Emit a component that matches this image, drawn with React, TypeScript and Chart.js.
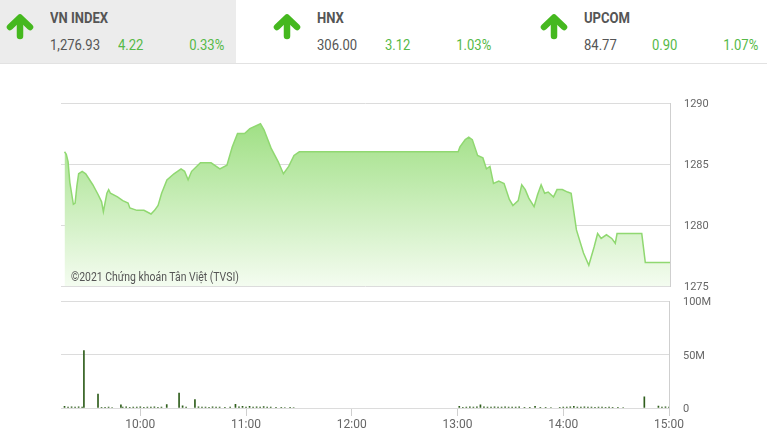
import React, { useEffect, useRef } from "react";
import Chart from "chart.js/auto";

// header quotes
const indexNames = ["VN INDEX", "HNX", "UPCOM"];
const indexValues = ["1,276.93", "306.00", "84.77"];
const indexChanges = ["4.22", "3.12", "0.90"];
const indexPercents = ["0.33%", "1.03%", "1.07%"];

// VN-Index intraday (time, points)
const priceData: [string, number][] = [
  ["9:17", 1286.0], ["9:18", 1285.8], ["9:19", 1285.2], ["9:20", 1283.5], ["9:22", 1281.7],
  ["9:23", 1281.8], ["9:24", 1283.2], ["9:25", 1284.2], ["9:27", 1284.4], ["9:29", 1284.2],
  ["9:33", 1283.3], ["9:36", 1282.5], ["9:38", 1281.9], ["9:39", 1281.1], ["9:41", 1282.6],
  ["9:42", 1282.9], ["9:43", 1282.6], ["9:47", 1282.3], ["9:50", 1282.0], ["9:53", 1281.8],
  ["9:54", 1281.4], ["9:58", 1281.2], ["10:02", 1281.2], ["10:06", 1280.9], ["10:08", 1281.2],
  ["10:10", 1281.6], ["10:12", 1282.6], ["10:15", 1283.7], ["10:19", 1284.2], ["10:23", 1284.6],
  ["10:25", 1284.4], ["10:27", 1283.7], ["10:29", 1284.4], ["10:34", 1285.1], ["10:40", 1285.1],
  ["10:45", 1284.6], ["10:49", 1284.9], ["10:52", 1286.4], ["10:55", 1287.5], ["10:59", 1287.5],
  ["11:02", 1287.9], ["11:08", 1288.3], ["11:10", 1287.8], ["11:14", 1286.3], ["11:18", 1285.2],
  ["11:21", 1284.2], ["11:24", 1284.8], ["11:27", 1285.7], ["11:30", 1286.0],
  ["13:00", 1286.0], ["13:01", 1286.4], ["13:04", 1287.0], ["13:06", 1287.2], ["13:08", 1287.0],
  ["13:11", 1285.7], ["13:14", 1285.5], ["13:16", 1284.6], ["13:18", 1284.8], ["13:20", 1283.4],
  ["13:23", 1283.6], ["13:26", 1283.4], ["13:29", 1282.1], ["13:31", 1281.6], ["13:34", 1282.0],
  ["13:36", 1283.3], ["13:38", 1282.9], ["13:40", 1282.2], ["13:43", 1281.5], ["13:45", 1282.5],
  ["13:47", 1283.3], ["13:49", 1282.6], ["13:51", 1282.7], ["13:54", 1282.3], ["13:56", 1282.9],
  ["13:59", 1282.9], ["14:02", 1282.7], ["14:04", 1282.6], ["14:07", 1279.6], ["14:11", 1277.7],
  ["14:14", 1276.7], ["14:17", 1278.2], ["14:19", 1279.3], ["14:21", 1278.9], ["14:24", 1279.2],
  ["14:27", 1278.9], ["14:29", 1278.5], ["14:30", 1279.3], ["14:44", 1279.3], ["14:46", 1276.93],
  ["15:00", 1276.93],
];

// matched volume (time, millions of shares)
const volumeData: [string, number][] = [
  ["9:17", 1.5], ["9:19", 0.9], ["9:21", 1.0], ["9:23", 0.8], ["9:25", 1.1], ["9:27", 0.9], ["9:28", 54],
  ["9:36", 13], ["9:38", 0.7], ["9:40", 0.6], ["9:42", 0.8], ["9:44", 0.5],
  ["9:49", 3.0], ["9:50", 0.8], ["9:52", 1.2], ["9:54", 0.7], ["9:56", 0.9], ["9:58", 0.8], ["10:00", 1.0],
  ["10:02", 0.7], ["10:04", 0.9], ["10:06", 0.8], ["10:08", 1.0], ["10:10", 0.7], ["10:12", 0.9], ["10:15", 3.2],
  ["10:22", 14], ["10:24", 2.0], ["10:26", 0.8], ["10:31", 8.0], ["10:33", 1.0], ["10:35", 0.8], ["10:37", 0.9],
  ["10:39", 0.7], ["10:41", 1.0], ["10:43", 0.8], ["10:45", 0.9], ["10:48", 0.6], ["10:51", 0.8], ["10:54", 3.4],
  ["10:56", 1.0], ["10:58", 1.5], ["11:00", 0.9], ["11:02", 1.6], ["11:04", 0.8], ["11:06", 1.0], ["11:08", 0.9],
  ["11:10", 1.4], ["11:12", 0.8], ["11:14", 0.9], ["11:17", 0.6], ["11:20", 0.7], ["11:22", 0.5], ["11:25", 0.6],
  ["11:27", 0.5],
  ["13:01", 1.5], ["13:03", 0.7], ["13:05", 0.9], ["13:07", 1.0], ["13:09", 0.8], ["13:11", 1.2], ["13:13", 3.0],
  ["13:15", 1.0], ["13:17", 0.9], ["13:19", 0.8], ["13:21", 1.0], ["13:23", 0.9], ["13:25", 0.8], ["13:27", 1.0],
  ["13:29", 0.9], ["13:31", 0.8], ["13:33", 0.9], ["13:35", 1.0], ["13:38", 0.6], ["13:41", 0.7], ["13:44", 1.5],
  ["13:47", 0.6], ["13:50", 0.7], ["13:53", 0.5],
  ["13:58", 0.7], ["14:00", 0.9], ["14:02", 0.8], ["14:04", 1.0], ["14:06", 1.5], ["14:08", 0.8], ["14:10", 0.9],
  ["14:12", 1.0], ["14:14", 0.8], ["14:16", 0.9], ["14:18", 0.7], ["14:20", 0.8], ["14:22", 0.9], ["14:24", 0.7],
  ["14:26", 0.8], ["14:28", 0.6], ["14:31", 0.7], ["14:34", 0.5], ["14:46", 10.6],
  ["14:54", 1.8], ["14:56", 0.8], ["14:58", 1.0], ["15:00", 0.9],
];

const timeTicks = ["10:00", "11:00", "12:00", "13:00", "14:00", "15:00"];
const sessionStart = "9:15";
const sessionEnd = "15:00";
const priceTicks = [1275, 1280, 1285, 1290];
const volumeTicks = [0, 50, 100];

const toMin = (t: string) => {
  const [h, m] = t.split(":").map(Number);
  return h * 60 + m;
};
const fmtMin = (v: number) => `${Math.floor(v / 60)}:${String(v % 60).padStart(2, "0")}`;

const tickFont = { family: "Roboto, sans-serif", size: 11 };
const gridColor = "#dcdcdc";

const Arrow = ({ left }: { left: number }) => (
  <svg
    width="28"
    height="27"
    viewBox="0 0 28 27"
    style={{ position: "absolute", left, top: 13 }}
  >
    <g stroke="#45b81f" strokeWidth="6.5" strokeLinecap="round" strokeLinejoin="round" fill="none">
      <polyline points="4,14 14,4.5 24,14" />
      <line x1="14" y1="6" x2="14" y2="23" />
    </g>
  </svg>
);

const narrow = (origin: string): React.CSSProperties => ({
  display: "inline-block",
  transform: "scaleX(0.87)",
  transformOrigin: origin,
  whiteSpace: "nowrap",
});

const Header = () => (
  <div style={{ position: "absolute", left: 0, top: 0, width: 767, height: 63 }}>
    <div style={{ position: "absolute", left: 0, top: 0, width: 236, height: 63, background: "#ececec" }} />
    <div style={{ position: "absolute", left: 0, top: 63, width: 767, height: 1, background: "#e2e2e2" }} />
    {indexNames.map((name, i) => {
      const s = i * 267;
      const text: React.CSSProperties = {
        position: "absolute",
        fontFamily: "Roboto, sans-serif",
        fontSize: 15,
        lineHeight: "15px",
      };
      return (
        <React.Fragment key={name}>
          <Arrow left={s + 6} />
          <div style={{ ...text, left: s + 50, top: 11, fontWeight: 700, color: "#555" }}>
            <span style={narrow("left")}>{name}</span>
          </div>
          <div style={{ ...text, left: s + 50, top: 38, color: "#555" }}>
            <span style={narrow("left")}>{indexValues[i]}</span>
          </div>
          <div style={{ ...text, left: s + 118, top: 38, color: "#55b947" }}>
            <span style={narrow("left")}>{indexChanges[i]}</span>
          </div>
          <div style={{ ...text, left: s, width: 224, top: 38, textAlign: "right", color: "#55b947" }}>
            <span style={narrow("right")}>{indexPercents[i]}</span>
          </div>
        </React.Fragment>
      );
    })}
  </div>
);

const App = () => {
  const priceRef = useRef<HTMLCanvasElement>(null);
  const volumeRef = useRef<HTMLCanvasElement>(null);

  useEffect(() => {
    const xMin = toMin(sessionStart);
    const xMax = toMin(sessionEnd);

    // right-hand value axis: label offset comes from an invisible tick mark,
    // so the label padding does not push the chart area down
    const rightAxis = (ticks: number[], width: number, label: (v: number) => string) => ({
      position: "right" as const,
      min: ticks[0],
      max: ticks[ticks.length - 1],
      afterBuildTicks: (scale: any) => {
        scale.ticks = ticks.map((v) => ({ value: v }));
      },
      afterFit: (scale: any) => {
        scale.width = width;
      },
      grid: { color: gridColor, drawTicks: true, tickLength: 14, tickColor: "rgba(0,0,0,0)" },
      border: { display: true, color: "#cfcfcf" },
      ticks: {
        color: "#666",
        font: tickFont,
        padding: 0,
        labelOffset: 1,
        callback: (v: any) => label(Number(v)),
      },
    });

    const priceChart = new Chart(priceRef.current!, {
      type: "line",
      data: {
        datasets: [
          {
            data: priceData.map(([t, v]) => ({ x: toMin(t), y: v })),
            borderColor: "#90d871",
            borderWidth: 1.5,
            pointRadius: 0,
            tension: 0,
            fill: "start",
            backgroundColor: (ctx: any) => {
              const area = ctx.chart.chartArea;
              if (!area) return "rgba(150,220,120,0.5)";
              const g = ctx.chart.ctx.createLinearGradient(0, area.top, 0, area.bottom);
              g.addColorStop(0, "#95dc77");
              g.addColorStop(1, "#f4fcf0");
              return g;
            },
          },
        ],
      },
      options: {
        responsive: false,
        animation: false,
        layout: { padding: { left: 61, top: 8, bottom: 9, right: 0 } },
        plugins: { legend: { display: false }, tooltip: { enabled: false } },
        scales: {
          x: { type: "linear", min: xMin, max: xMax, display: false },
          y: rightAxis(priceTicks, 97, (v) => String(v)),
        },
      },
    });

    const volumeChart = new Chart(volumeRef.current!, {
      type: "bar",
      data: {
        datasets: [
          {
            data: volumeData.map(([t, v]) => ({ x: toMin(t), y: v })),
            backgroundColor: "#2f5e1c",
            barThickness: 1,
          },
        ],
      },
      options: {
        responsive: false,
        animation: false,
        layout: { padding: { left: 61, top: 6, bottom: 0, right: 0 } },
        plugins: { legend: { display: false }, tooltip: { enabled: false } },
        scales: {
          x: {
            type: "linear",
            min: xMin,
            max: xMax,
            offset: false,
            afterBuildTicks: (scale: any) => {
              scale.ticks = timeTicks.map((t) => ({ value: toMin(t) }));
            },
            afterFit: (scale: any) => {
              scale.height = 35;
            },
            grid: { offset: false, drawOnChartArea: false, tickLength: 8, color: "#cfcfcf" },
            border: { display: false },
            ticks: {
              color: "#666",
              font: { ...tickFont, size: 12 },
              padding: 2,
              maxRotation: 0,
              callback: (v: any) => fmtMin(Number(v)),
            },
          },
          y: rightAxis(volumeTicks, 98, (v) => (v === 0 ? "0" : `${v}M`)),
        },
      },
    });

    return () => {
      priceChart.destroy();
      volumeChart.destroy();
    };
  }, []);

  return (
    <div
      style={{
        position: "fixed",
        left: 0,
        top: 0,
        width: 767,
        height: 443,
        background: "#fff",
        overflow: "hidden",
      }}
    >
      <Header />
      <canvas
        ref={priceRef}
        width={767}
        height={200}
        style={{ position: "absolute", left: 0, top: 95 }}
      />
      <div
        style={{
          position: "absolute",
          left: 71,
          top: 271,
          fontFamily: "Roboto, sans-serif",
          fontSize: 12,
          lineHeight: "12px",
          color: "#555",
        }}
      >
        <span style={narrow("left")}>©2021 Chứng khoán Tân Việt (TVSI)</span>
      </div>
      <canvas
        ref={volumeRef}
        width={767}
        height={148}
        style={{ position: "absolute", left: 0, top: 295 }}
      />
    </div>
  );
};

export default App;
